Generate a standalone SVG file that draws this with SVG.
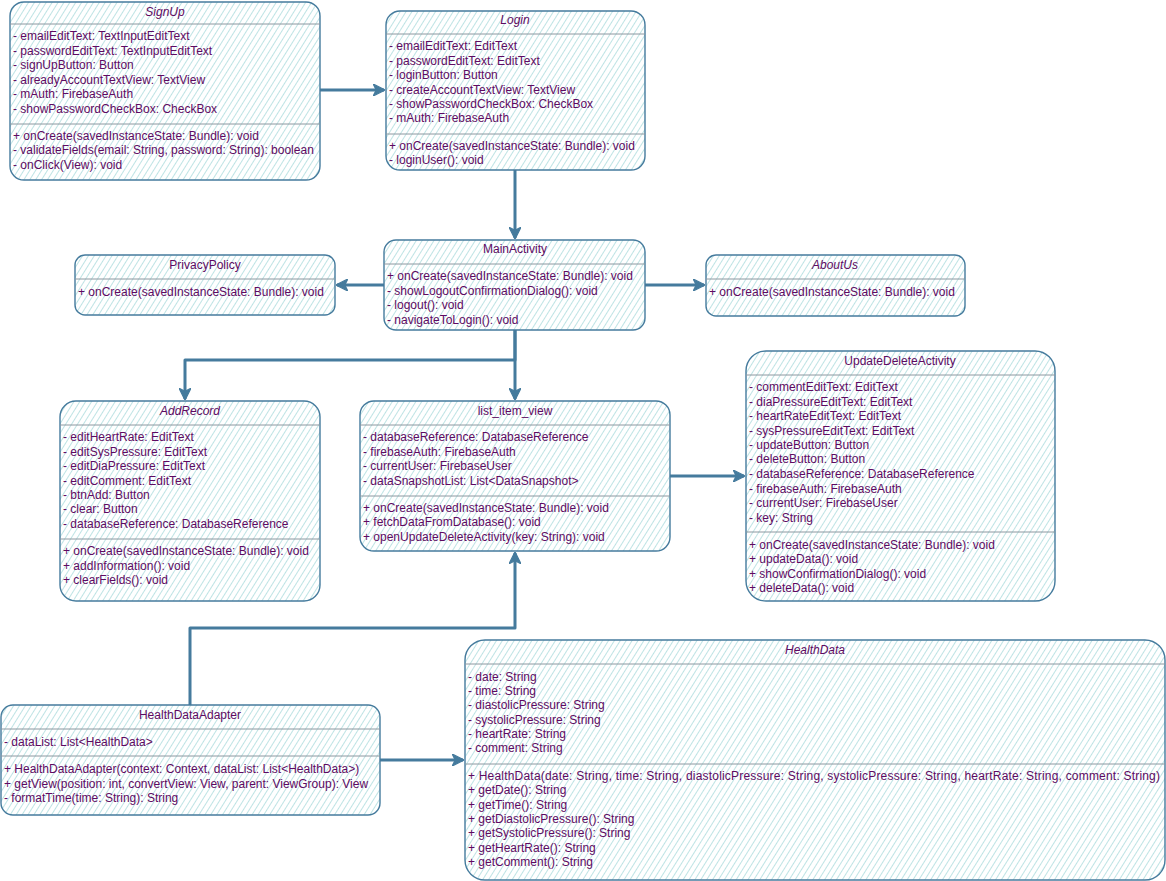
<svg xmlns="http://www.w3.org/2000/svg" width="1166" height="881" viewBox="0 0 1166 881">
<defs>
<pattern id="hatch" width="5" height="5" patternUnits="userSpaceOnUse" patternTransform="rotate(32)">
<rect width="5" height="5" fill="#ffffff"/>
<line x1="0" y1="0" x2="0" y2="5" stroke="#a8dadc" stroke-width="1.5"/>
</pattern>
<marker id="arr" viewBox="0 0 10 10" refX="9" refY="5" markerWidth="4" markerHeight="4" orient="auto" markerUnits="strokeWidth">
<path d="M0,0 L10,5 L0,10 L2.5,5 Z" fill="#457b9d" stroke="#457b9d" stroke-width="1"/>
</marker>
</defs>
<style>
.box{fill:url(#hatch);stroke:#457b9d;stroke-width:1.4}
.div{stroke:#8c98a0;stroke-width:1}
.t{font-family:"Liberation Sans",Arial,sans-serif;font-size:12px;fill:#5e0a62}
.ti{font-family:"Liberation Sans",Arial,sans-serif;font-size:12px;fill:#5e0a62;text-anchor:middle}
.it{font-style:italic}
.c{fill:none;stroke:#457b9d;stroke-width:3;stroke-linejoin:round;marker-end:url(#arr)}
</style>
<rect width="1166" height="881" fill="#ffffff"/>

<g id="connectors">
<path class="c" d="M320,90 L384,90"/>
<path class="c" d="M515,170 L515,238"/>
<path class="c" d="M384,285 L337,285"/>
<path class="c" d="M645,285 L704,285"/>
<path class="c" d="M515,330 L515,360 L185,360 L185,399"/>
<path class="c" d="M515,330 L515,399"/>
<path class="c" d="M670,476 L744,476"/>
<path class="c" d="M190,705 L190,628 L515,628 L515,553"/>
<path class="c" d="M380,760 L463,760"/>
</g>

<g id="SignUp">
<rect class="box" x="10" y="2" width="310" height="178" rx="14"/>
<line class="div" x1="10" y1="24" x2="320" y2="24"/>
<line class="div" x1="10" y1="124" x2="320" y2="124"/>
<text class="ti it" x="165" y="16">SignUp</text>
<text class="t" x="13" y="40">- emailEditText: TextInputEditText</text>
<text class="t" x="13" y="55">- passwordEditText: TextInputEditText</text>
<text class="t" x="13" y="69">- signUpButton: Button</text>
<text class="t" x="13" y="84">- alreadyAccountTextView: TextView</text>
<text class="t" x="13" y="98">- mAuth: FirebaseAuth</text>
<text class="t" x="13" y="113">- showPasswordCheckBox: CheckBox</text>
<text class="t" x="13" y="140">+ onCreate(savedInstanceState: Bundle): void</text>
<text class="t" x="13" y="154">- validateFields(email: String, password: String): boolean</text>
<text class="t" x="13" y="169">- onClick(View): void</text>
</g>

<g id="Login">
<rect class="box" x="386" y="11" width="259" height="159" rx="14"/>
<line class="div" x1="386" y1="34" x2="645" y2="34"/>
<line class="div" x1="386" y1="134" x2="645" y2="134"/>
<text class="ti it" x="515" y="24">Login</text>
<text class="t" x="389" y="50">- emailEditText: EditText</text>
<text class="t" x="389" y="65">- passwordEditText: EditText</text>
<text class="t" x="389" y="79">- loginButton: Button</text>
<text class="t" x="389" y="94">- createAccountTextView: TextView</text>
<text class="t" x="389" y="108">- showPasswordCheckBox: CheckBox</text>
<text class="t" x="389" y="122">- mAuth: FirebaseAuth</text>
<text class="t" x="389" y="150">+ onCreate(savedInstanceState: Bundle): void</text>
<text class="t" x="389" y="164">- loginUser(): void</text>
</g>

<g id="MainActivity">
<rect class="box" x="384" y="240" width="261" height="90" rx="12"/>
<line class="div" x1="384" y1="264" x2="645" y2="264"/>
<text class="ti" x="515" y="253">MainActivity</text>
<text class="t" x="387" y="280">+ onCreate(savedInstanceState: Bundle): void</text>
<text class="t" x="387" y="295">- showLogoutConfirmationDialog(): void</text>
<text class="t" x="387" y="309">- logout(): void</text>
<text class="t" x="387" y="324">- navigateToLogin(): void</text>
</g>

<g id="PrivacyPolicy">
<rect class="box" x="75" y="255" width="260" height="60" rx="10"/>
<line class="div" x1="75" y1="279" x2="335" y2="279"/>
<text class="ti" x="205" y="269">PrivacyPolicy</text>
<text class="t" x="78" y="296">+ onCreate(savedInstanceState: Bundle): void</text>
</g>

<g id="AboutUs">
<rect class="box" x="706" y="255" width="259" height="61" rx="10"/>
<line class="div" x1="706" y1="279" x2="965" y2="279"/>
<text class="ti it" x="835" y="269">AboutUs</text>
<text class="t" x="709" y="296">+ onCreate(savedInstanceState: Bundle): void</text>
</g>

<g id="AddRecord">
<rect class="box" x="60" y="401" width="260" height="200" rx="16"/>
<line class="div" x1="60" y1="425" x2="320" y2="425"/>
<line class="div" x1="60" y1="539" x2="320" y2="539"/>
<text class="ti it" x="190" y="415">AddRecord</text>
<text class="t" x="63" y="441">- editHeartRate: EditText</text>
<text class="t" x="63" y="456">- editSysPressure: EditText</text>
<text class="t" x="63" y="470">- editDiaPressure: EditText</text>
<text class="t" x="63" y="485">- editComment: EditText</text>
<text class="t" x="63" y="499">- btnAdd: Button</text>
<text class="t" x="63" y="513">- clear: Button</text>
<text class="t" x="63" y="528">- databaseReference: DatabaseReference</text>
<text class="t" x="63" y="555">+ onCreate(savedInstanceState: Bundle): void</text>
<text class="t" x="63" y="570">+ addInformation(): void</text>
<text class="t" x="63" y="584">+ clearFields(): void</text>
</g>

<g id="list_item_view">
<rect class="box" x="360" y="401" width="310" height="150" rx="14"/>
<line class="div" x1="360" y1="425" x2="670" y2="425"/>
<line class="div" x1="360" y1="496" x2="670" y2="496"/>
<text class="ti" x="515" y="415">list_item_view</text>
<text class="t" x="363" y="441">- databaseReference: DatabaseReference</text>
<text class="t" x="363" y="456">- firebaseAuth: FirebaseAuth</text>
<text class="t" x="363" y="470">- currentUser: FirebaseUser</text>
<text class="t" x="363" y="485">- dataSnapshotList: List&lt;DataSnapshot&gt;</text>
<text class="t" x="363" y="512">+ onCreate(savedInstanceState: Bundle): void</text>
<text class="t" x="363" y="526">+ fetchDataFromDatabase(): void</text>
<text class="t" x="363" y="541">+ openUpdateDeleteActivity(key: String): void</text>
</g>

<g id="UpdateDeleteActivity">
<rect class="box" x="746" y="351" width="309" height="250" rx="20"/>
<line class="div" x1="746" y1="375" x2="1055" y2="375"/>
<line class="div" x1="746" y1="532" x2="1055" y2="532"/>
<text class="ti" x="900" y="365">UpdateDeleteActivity</text>
<text class="t" x="749" y="391">- commentEditText: EditText</text>
<text class="t" x="749" y="406">- diaPressureEditText: EditText</text>
<text class="t" x="749" y="420">- heartRateEditText: EditText</text>
<text class="t" x="749" y="435">- sysPressureEditText: EditText</text>
<text class="t" x="749" y="449">- updateButton: Button</text>
<text class="t" x="749" y="463">- deleteButton: Button</text>
<text class="t" x="749" y="478">- databaseReference: DatabaseReference</text>
<text class="t" x="749" y="493">- firebaseAuth: FirebaseAuth</text>
<text class="t" x="749" y="507">- currentUser: FirebaseUser</text>
<text class="t" x="749" y="522">- key: String</text>
<text class="t" x="749" y="549">+ onCreate(savedInstanceState: Bundle): void</text>
<text class="t" x="749" y="563">+ updateData(): void</text>
<text class="t" x="749" y="578">+ showConfirmationDialog(): void</text>
<text class="t" x="749" y="592">+ deleteData(): void</text>
</g>

<g id="HealthDataAdapter">
<rect class="box" x="1" y="705" width="379" height="110" rx="12"/>
<line class="div" x1="1" y1="729" x2="380" y2="729"/>
<line class="div" x1="1" y1="756" x2="380" y2="756"/>
<text class="ti" x="190" y="719">HealthDataAdapter</text>
<text class="t" x="4" y="746">- dataList: List&lt;HealthData&gt;</text>
<text class="t" x="4" y="773">+ HealthDataAdapter(context: Context, dataList: List&lt;HealthData&gt;)</text>
<text class="t" x="4" y="788">+ getView(position: int, convertView: View, parent: ViewGroup): View</text>
<text class="t" x="4" y="802">- formatTime(time: String): String</text>
</g>

<g id="HealthData">
<rect class="box" x="465" y="640" width="700" height="240" rx="20"/>
<line class="div" x1="465" y1="664" x2="1165" y2="664"/>
<line class="div" x1="465" y1="764" x2="1165" y2="764"/>
<text class="ti it" x="815" y="654">HealthData</text>
<text class="t" x="468" y="681">- date: String</text>
<text class="t" x="468" y="695">- time: String</text>
<text class="t" x="468" y="709">- diastolicPressure: String</text>
<text class="t" x="468" y="724">- systolicPressure: String</text>
<text class="t" x="468" y="738">- heartRate: String</text>
<text class="t" x="468" y="752">- comment: String</text>
<text class="t" x="468" y="780" textLength="692" lengthAdjust="spacing">+ HealthData(date: String, time: String, diastolicPressure: String, systolicPressure: String, heartRate: String, comment: String)</text>
<text class="t" x="468" y="794">+ getDate(): String</text>
<text class="t" x="468" y="809">+ getTime(): String</text>
<text class="t" x="468" y="823">+ getDiastolicPressure(): String</text>
<text class="t" x="468" y="837">+ getSystolicPressure(): String</text>
<text class="t" x="468" y="852">+ getHeartRate(): String</text>
<text class="t" x="468" y="866">+ getComment(): String</text>
</g>
</svg>
